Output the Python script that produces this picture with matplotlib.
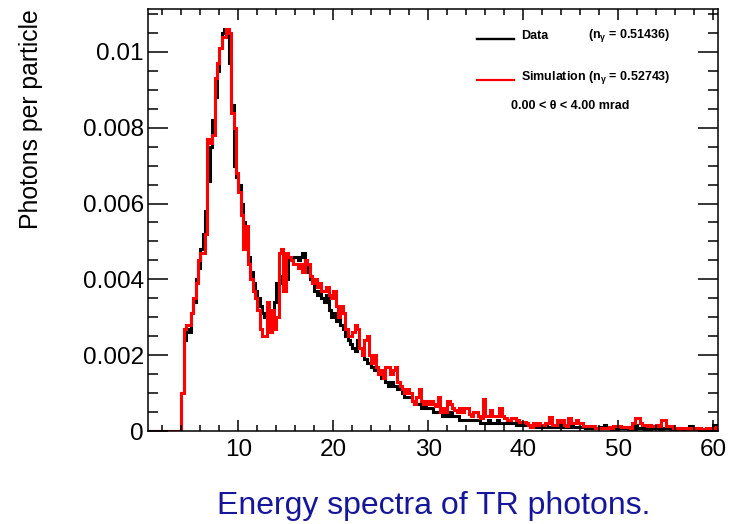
import numpy as np
import matplotlib
matplotlib.use("Agg")
import matplotlib.pyplot as plt
from matplotlib.ticker import MultipleLocator, FuncFormatter

plt.rcParams['font.family'] = ['Liberation Sans', 'DejaVu Sans']
plt.rcParams['mathtext.fontset'] = 'custom'
plt.rcParams['mathtext.rm'] = 'Liberation Sans:bold'
plt.rcParams['mathtext.it'] = 'Liberation Sans:bold'

# histogram binning: 0.25 keV bins from 0.5 to 60.5
e_lo, e_hi, bin_w = 0.5, 60.5, 0.25
scale = 1e-4

# photons per particle per bin, in units of 1e-4 (one row = 2 keV)
data_e4 = [0] * 14 + [
    10, 24, 27, 26, 31, 34, 40, 43,
    48, 52, 58, 66, 75, 82, 88, 95,
    101, 105, 106, 105, 97, 86, 70, 67,
    65, 60, 55, 50, 46, 42, 39, 37,
    35, 33, 31, 30, 30, 32, 32, 34,
    39, 41, 39, 38, 40, 45, 45, 46,
    46, 45, 46, 47, 44, 42, 40, 39,
    37, 36, 37, 35, 34, 36, 32, 30,
    31, 29, 30, 28, 27, 25, 24, 23,
    22, 21, 24, 22, 21, 19, 18, 18,
    17, 16, 16, 15, 14, 15, 13, 12,
    13, 12, 12, 11, 11, 10, 9, 9,
    9, 8, 8, 7, 7, 6, 7, 6,
    6, 6, 5, 5, 5, 5, 4, 5,
    4, 5, 4, 4, 4, 3, 3, 3,
    3, 3, 3, 3, 3, 3, 2, 2,
    2, 3, 2, 2, 2, 3, 2, 2,
    2, 2, 2, 2, 2, 1.5, 1.5, 2,
    1.5, 1.5, 1.5, 1, 1, 1.5, 1, 1,
    1, 1.5, 1, 1, 1, 1.2, 1, 1.5,
    1, 1, 1.2, 1, 1.5, 1, 1, 1,
    1, 1, 0.8, 1.3, 0.8, 1, 0.8, 0.8,
    1, 0.7, 1.5, 0.8, 0.8, 0.6, 0.8, 0.6,
    1, 0.7, 0.8, 1, 0.6, 0.8, 0.6, 1.6,
    0.7, 0.8, 0.8, 0.6, 0.9, 0.6, 1.3, 0.7,
    0.8, 0.6, 0.6, 0.7, 0.8, 1.4, 0.6, 0.7,
    0.6, 0.8, 0.5, 0.6, 0.5, 0.6, 1.4, 0.5,
    0.5, 0.7, 0.5, 0.4, 0.6, 0.5, 0.4, 0.5,
    1.6, 0.6,
]

sim_e4 = [0] * 14 + [
    10, 27, 28, 28, 31, 35, 39, 45,
    47, 47, 52, 77, 76, 78, 93, 97,
    101, 104, 104, 106, 105, 84, 80, 68,
    63, 57, 48, 54, 44, 40, 37, 35,
    32, 27, 25, 25, 34, 26, 32, 27,
    30, 47, 48, 37, 47, 46, 45, 44,
    44, 43, 44, 42, 45, 44, 41, 39,
    40, 38, 39, 37, 37, 38, 36, 35,
    37, 33, 30, 33, 31, 27, 25, 25,
    26, 28, 27, 22, 20, 24, 25, 20,
    18, 20, 17, 15, 16, 14, 17, 17,
    15, 16, 17, 13, 12, 11, 10, 11,
    10, 8, 7, 9, 11, 8, 7, 8,
    7, 8, 7, 6.5, 9, 5, 6, 5,
    8, 7, 6, 5.5, 5, 6, 5, 6,
    6, 4.5, 4, 5, 5, 4, 3.5, 8.5,
    4, 4, 5.5, 4, 4, 4, 6, 4,
    3.5, 3, 3, 3.5, 3.5, 3, 2.5, 2.5,
    2.5, 2, 1.5, 1, 2, 1.5, 2, 1.5,
    1.5, 2, 2, 3.8, 1.5, 1.6, 3, 2.5,
    3, 1.5, 1.2, 3.4, 2, 2, 2.9, 2,
    2, 1.3, 1.2, 1.2, 1.2, 1.2, 0.8, 0.9,
    0.8, 0.8, 0.9, 0.9, 1, 0.9, 1.2, 1.2,
    1.2, 1.1, 1, 1, 1, 0.9, 2, 3.5,
    3.5, 2, 1.6, 1.6, 1.3, 1.5, 1.4, 1.2,
    1.5, 1.3, 3, 3, 1.2, 1.2, 1.2, 0.8,
    0.8, 0.6, 0.9, 0.7, 0.8, 0.5, 0.9, 0.6,
    0.7, 0.5, 0.8, 0.6, 0.6, 0.8, 0.5, 0.7,
    0.9, 1.0,
]

n_gamma_data = 0.51436
n_gamma_sim = 0.52743
theta_lo, theta_hi = 0.00, 4.00

edges = np.linspace(e_lo, e_hi, len(data_e4) + 1)
data = np.array(data_e4) * scale
sim = np.array(sim_e4) * scale

W, H = 731, 524
fig = plt.figure(figsize=(W / 100, H / 100), dpi=100)
ax = fig.add_axes([148 / W, 1 - 431 / H, 570 / W, 422 / H])

ax.stairs(data, edges, color='black', lw=2.2)
ax.stairs(sim, edges, color='#ff0000', lw=2.2)

ax.set_xlim(e_lo, e_hi)
ax.set_ylim(0, 1.05 * max(data.max(), sim.max()))

ax.xaxis.set_major_locator(MultipleLocator(10))
ax.xaxis.set_minor_locator(MultipleLocator(2))
ax.yaxis.set_major_locator(MultipleLocator(0.002))
ax.yaxis.set_minor_locator(MultipleLocator(0.0005))
ax.yaxis.set_major_formatter(FuncFormatter(lambda v, p: '%g' % round(v, 6)))

ax.tick_params(which='both', direction='in', top=True, right=True,
               width=1.1, labelsize=17.5, colors='black')
ax.tick_params(axis='x', which='major', length=8, pad=6)
ax.tick_params(axis='x', which='minor', length=4.3)
ax.tick_params(axis='y', which='major', length=14.5, pad=3)
ax.tick_params(axis='y', which='minor', length=7.2)
for s in ax.spines.values():
    s.set_linewidth(1.1)

fig.text(31 / W, 1 - 9 / H, 'Photons per particle', rotation=90,
         ha='center', va='top', fontsize=17.8)

# legend block, drawn by hand in figure pixels
def fx(px):
    return px / W

def fy(py):
    return 1 - py / H

fig.add_artist(plt.Line2D([fx(477), fx(514)], [fy(39), fy(39)],
                          color='black', lw=1.7))
fig.add_artist(plt.Line2D([fx(477), fx(514)], [fy(80), fy(80)],
                          color='#ff0000', lw=1.6))
fig.text(fx(521), fy(36), 'Data', fontsize=9, fontweight='bold', va='center')
fig.text(fx(588), fy(36), r'(n$_{\gamma}$ = %.5f)' % n_gamma_data,
         fontsize=9, fontweight='bold', va='center')
fig.text(fx(521), fy(78), r'Simulation (n$_{\gamma}$ = %.5f)' % n_gamma_sim,
         fontsize=9, fontweight='bold', va='center')
fig.text(fx(511), fy(106), '%.2f < \u03b8 < %.2f mrad' % (theta_lo, theta_hi),
         fontsize=9, fontweight='bold', va='center')

fig.text(434 / W, 1 - 506 / H, 'Energy spectra of TR photons.',
         ha='center', va='center', fontsize=23, color='#16169a')

fig.savefig('out.png', dpi=100)
